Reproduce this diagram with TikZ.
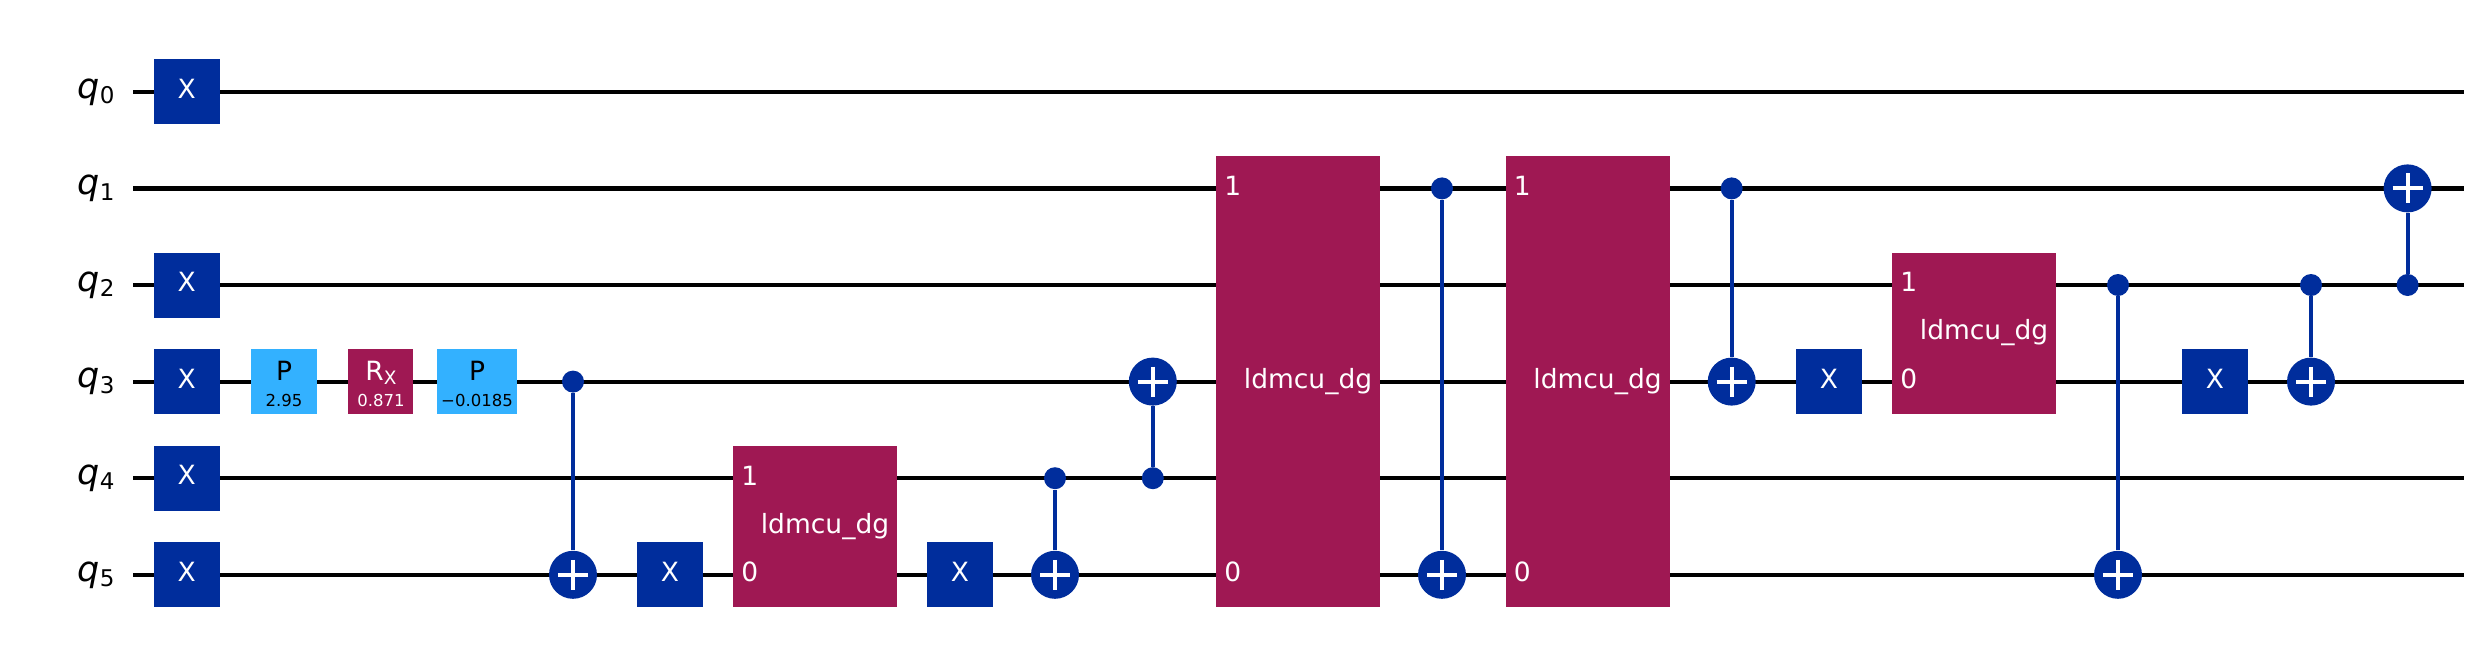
\documentclass[tikz,border=0pt]{standalone}
\usepackage{fontspec}
\setmainfont{DejaVu Sans}
\definecolor{xblue}{HTML}{002D9C}
\definecolor{pblue}{HTML}{33B1FF}
\definecolor{mred}{HTML}{9F1853}
\tikzset{
  wire/.style={line width=2.1pt,black},
  gatebox/.style={inner sep=0pt,minimum height=32.5pt,minimum width=33pt},
  xgate/.style={gatebox,fill=xblue,text=white,font=\fontsize{13.25}{15}\selectfont,text height=9.7pt,text depth=3.1pt},
  multibox/.style={inner sep=0pt,minimum width=82pt,fill=mred},
  big/.style={anchor=base,inner sep=0pt,font=\fontsize{13.25}{15}\selectfont},
  small/.style={anchor=base,inner sep=0pt,font=\fontsize{8.25}{10}\selectfont},
  port/.style={anchor=base west,inner sep=0pt,text=white,font=\fontsize{13.25}{15}\selectfont},
  ctrl/.style={circle,fill=xblue,inner sep=0pt,minimum size=11pt},
  targ/.style={circle,fill=xblue,inner sep=0pt,minimum size=24pt},
  ctrlline/.style={line width=2pt,xblue},
  plusline/.style={line width=2pt,white}
}
\begin{document}
\begin{tikzpicture}[x=.5pt,y=-.5pt]
    \useasboundingbox (0,0) rectangle (2486,648);
    \foreach \i in {0,1,2,3,4,5}{
    \coordinate (wa\i) at (133,{91.8+96.6*\i});
    \coordinate (wb\i) at (2464,{91.8+96.6*\i});
    \draw[wire] (wa\i)--(wb\i);
    \node[anchor=base east,inner sep=0pt,font=\fontsize{17.5}{19}\selectfont] (q\i) at (115,{98+96.6*\i})
    {\textit{q}\raisebox{-2.7pt}{\fontsize{11.5}{13}\selectfont\i}};}
    \foreach \n/\x/\w in {xa/186.8/0,xb/186.8/2,xc/186.8/3,xd/186.8/4,xe/186.8/5,
    xf/670/5,xg/960/5,xh/1829/3,xi/2215/3}{
    \node[xgate] (\n) at (\x,{91.8+96.6*\w}) {X};}
    \node[gatebox,fill=pblue] (pa) at (284,381.6) {};
    \node[big] (pat) at (284,380) {P};
    \node[small] (pav) at (284,406) {2.95};
    \node[gatebox,fill=mred,minimum width=32.5pt] (rx) at (380.5,381.6) {};
    \node[big,text=white] (rxt) at (381,380) {R\raisebox{-2pt}{\fontsize{9.25}{10}\selectfont X}};
    \node[small,text=white] (rxv) at (381,406) {0.871};
    \node[gatebox,fill=pblue,minimum width=40pt] (pb) at (477,381.6) {};
    \node[big] (pbt) at (477,380) {P};
    \node[small] (pbv) at (477,406) {−0.0185};
    \foreach \n/\x/\a/\b in {ma/815/4/5,mb/1298/1/5,mc/1587.5/1/5,md/1974/2/3}{
    \node[multibox,minimum height={(96.6*(\b-\a)+65)*.5pt}] (\n) at (\x,{91.8+96.6*(\a+\b)/2}) {};
    \node[big,text=white] (\n t) at (\x+10,{98.4+96.6*(\a+\b)/2}) {ldmcu\_dg};
    \node[port] (\n a) at (\x-74,{98.6+96.6*\a}) {1};
    \node[port] (\n b) at (\x-74,{98.6+96.6*\b}) {0};}
    \foreach \n/\x/\c/\t in {a/573/3/5,b/1055/4/5,c/1152.8/4/3,d/1442/1/5,e/1731.7/1/3,
    f/2118/2/5,g/2311/2/3,h/2407.6/2/1}{
    \node[ctrl] (c\n) at (\x,{91.8+96.6*\c}) {};
    \node[targ] (t\n) at (\x,{91.8+96.6*\t}) {};
    \draw[ctrlline] (c\n)--(t\n);
    \draw[plusline] (t\n.center) +(-15,0)--+(15,0) +(0,-15)--+(0,15);}
\end{tikzpicture}
\end{document}
